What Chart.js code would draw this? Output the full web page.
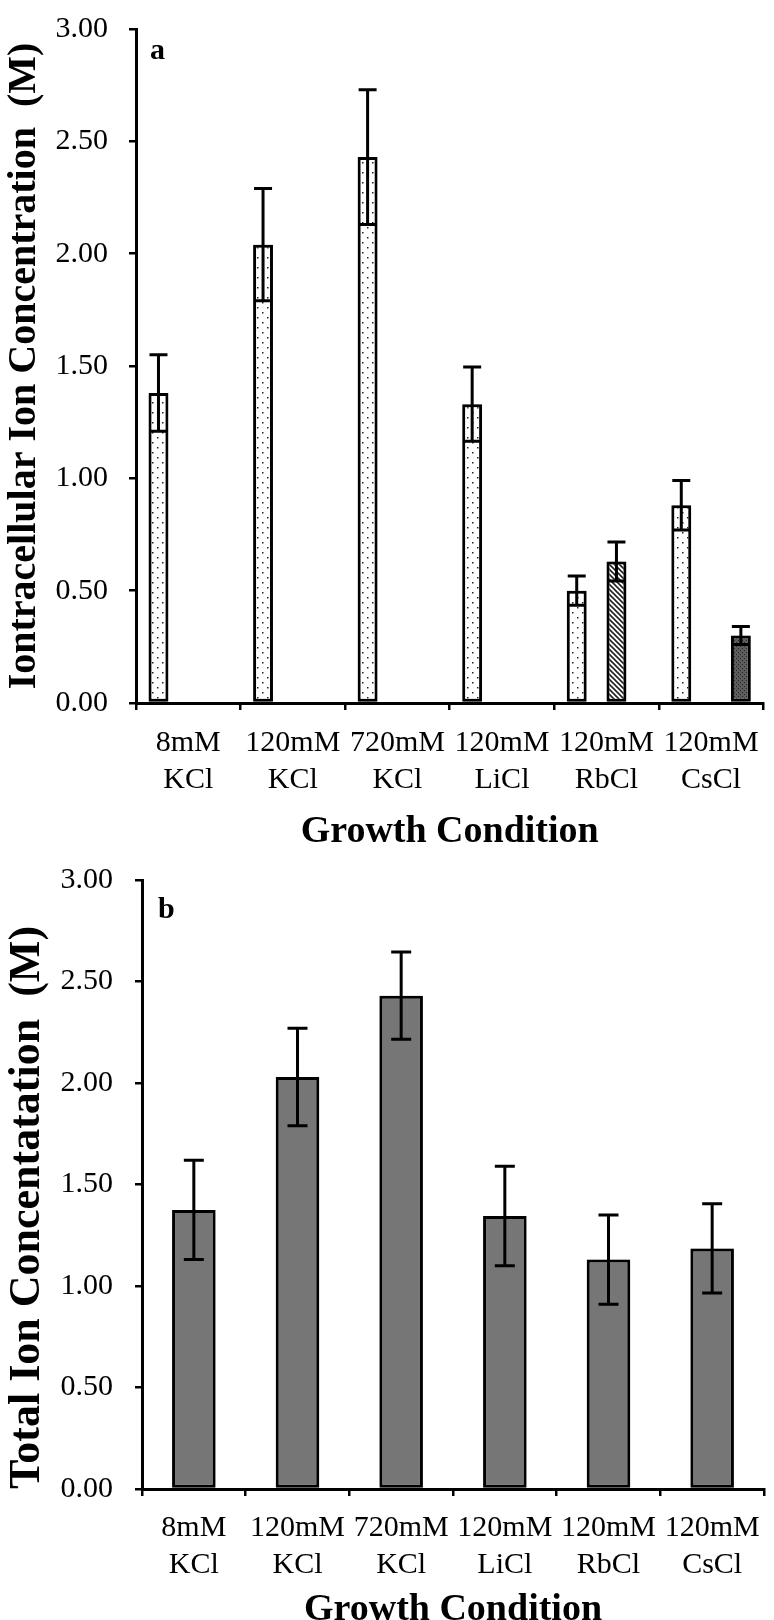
<!DOCTYPE html>
<html>
<head>
<meta charset="utf-8">
<script src="https://cdn.jsdelivr.net/npm/chart.js@4"></script>
<style>
  body { margin: 0; background: #fff; overflow: hidden; }
  #wrap { position: relative; width: 774px; height: 1620px; overflow: hidden; }
  canvas { position: absolute; left: 0; }
</style>
</head>
<body>
<div id="wrap">
  <canvas id="chartA" width="774" height="890" style="top:-10px"></canvas>
  <canvas id="chartB" width="774" height="800" style="top:840px"></canvas>
</div>
<script>
const categories = [
  ["8mM", "KCl"],
  ["120mM", "KCl"],
  ["720mM", "KCl"],
  ["120mM", "LiCl"],
  ["120mM", "RbCl"],
  ["120mM", "CsCl"],
];
const yTicks = [0, 0.5, 1, 1.5, 2, 2.5, 3];

// panel a: intracellular ion per ion type
const kValues = [1.38, 2.04, 2.43, 1.33, 0.5, 0.88];
const kErrors = [0.17, 0.25, 0.3, 0.165, 0.065, 0.11];
const liValues = [null, null, null, null, null, null];
const rbValues = [0, 0, 0, 0, 0.63, 0];
const rbErrors = [0, 0, 0, 0, 0.087, 0];
const csValues = [0, 0, 0, 0, 0, 0.3];
const csErrors = [0, 0, 0, 0, 0, 0.04];

// panel b: total ion
const totalValues = [1.375, 2.03, 2.43, 1.345, 1.13, 1.185];
const totalErrors = [0.245, 0.24, 0.215, 0.245, 0.22, 0.22];

const SERIF = '"Liberation Serif", "Times New Roman", serif';

function tile(w, h, paint) {
  const c = document.createElement("canvas");
  c.width = w;
  c.height = h;
  const g = c.getContext("2d");
  paint(g);
  return g.createPattern(c, "repeat");
}

const dotted = tile(10, 10, (g) => {
  g.fillStyle = "#fff";
  g.fillRect(0, 0, 10, 10);
  g.fillStyle = "#222";
  g.fillRect(2, 2, 1.5, 1.5);
  g.fillRect(7, 7, 1.5, 1.5);
});

const hatched = tile(5, 5, (g) => {
  g.fillStyle = "#fff";
  g.fillRect(0, 0, 5, 5);
  g.strokeStyle = "#222";
  g.lineWidth = 1.6;
  g.beginPath();
  g.moveTo(-1, -1); g.lineTo(6, 6);
  g.moveTo(-1, 4); g.lineTo(1, 6);
  g.moveTo(4, -1); g.lineTo(6, 1);
  g.stroke();
});

const darkFill = tile(4, 4, (g) => {
  g.fillStyle = "#5c5c5c";
  g.fillRect(0, 0, 4, 4);
  g.fillStyle = "#262626";
  g.fillRect(0, 0, 1, 1);
  g.fillRect(2, 2, 1, 1);
});

const barShadow = {
  id: "barShadow",
  beforeDatasetDraw(chart) {
    const ctx = chart.ctx;
    ctx.save();
    ctx.shadowColor = "rgba(0,0,0,0.3)";
    ctx.shadowBlur = 5;
  },
  afterDatasetDraw(chart) {
    chart.ctx.restore();
  },
};

const errorBars = {
  id: "errorBars",
  afterDatasetsDraw(chart, args, opts) {
    const ctx = chart.ctx;
    const y = chart.scales.y;
    chart.data.datasets.forEach((ds, di) => {
      if (!ds.errors) return;
      const meta = chart.getDatasetMeta(di);
      meta.data.forEach((bar, i) => {
        const v = ds.data[i];
        const e = ds.errors[i];
        if (v == null || !e) return;
        const top = y.getPixelForValue(v + e);
        const bottom = y.getPixelForValue(v - e);
        ctx.save();
        ctx.strokeStyle = "#000";
        ctx.lineWidth = opts.width;
        ctx.beginPath();
        ctx.moveTo(bar.x, top);
        ctx.lineTo(bar.x, bottom);
        ctx.moveTo(bar.x - opts.cap, top);
        ctx.lineTo(bar.x + opts.cap, top);
        ctx.moveTo(bar.x - opts.cap, bottom);
        ctx.lineTo(bar.x + opts.cap, bottom);
        ctx.stroke();
        ctx.restore();
      });
    });
  },
};

const panelLetter = {
  id: "panelLetter",
  afterDraw(chart, args, opts) {
    const ctx = chart.ctx;
    ctx.save();
    ctx.fillStyle = "#000";
    ctx.font = `bold 30px ${SERIF}`;
    ctx.textBaseline = "alphabetic";
    ctx.fillText(opts.text, chart.chartArea.left + opts.dx, chart.chartArea.top + opts.dy);
    ctx.restore();
  },
};

function yScale(title, width, pad, align, titleSize) {
  return {
    min: 0,
    max: 3,
    afterBuildTicks: (s) => { s.ticks = yTicks.map((v) => ({ value: v })); },
    afterFit: (s) => { s.width = width; },
    ticks: {
      color: "#000",
      padding: pad,
      font: { family: SERIF, size: 30 },
      callback: (v) => Number(v).toFixed(2),
    },
    grid: { display: true, drawOnChartArea: false, drawTicks: true, tickLength: 7, color: "#000", lineWidth: 2.5 },
    border: { display: true, color: "#000", width: 3 },
    title: {
      display: true,
      text: title,
      color: "#000",
      align: align,
      font: { family: SERIF, size: titleSize, weight: "bold" },
      padding: { top: 1, bottom: 0 },
    },
  };
}

function xScale(height, tickPad, titlePad) {
  return {
    afterFit: (s) => { s.height = height; },
    ticks: {
      color: "#000",
      padding: tickPad,
      maxRotation: 0,
      autoSkip: false,
      font: { family: SERIF, size: 30, lineHeight: 1.23 },
    },
    grid: { display: true, offset: true, drawOnChartArea: false, drawTicks: true, tickLength: 7, color: "#000", lineWidth: 2.5 },
    border: { display: true, color: "#000", width: 3 },
    title: {
      display: true,
      text: "Growth Condition",
      color: "#000",
      font: { family: SERIF, size: 38, weight: "bold" },
      padding: { top: 0, bottom: titlePad },
    },
  };
}

function barStyle(fill) {
  return {
    backgroundColor: fill,
    borderColor: "#000",
    borderWidth: 3,
    borderSkipped: false,
  };
}

new Chart(document.getElementById("chartA"), {
  type: "bar",
  data: {
    labels: categories,
    datasets: [
      { label: "K+", data: kValues, errors: kErrors, ...barStyle(dotted) },
      { label: "Li+", data: liValues, ...barStyle(dotted) },
      { label: "Rb+", data: rbValues, errors: rbErrors, ...barStyle(hatched) },
      { label: "Cs+", data: csValues, errors: csErrors, ...barStyle(darkFill) },
    ],
  },
  options: {
    responsive: false,
    animation: false,
    devicePixelRatio: 1,
    datasets: { bar: { categoryPercentage: 0.76, barPercentage: 1.0 } },
    layout: { padding: { top: 20, right: 5, left: 0, bottom: 0 } },
    scales: {
      x: xScale(177, 15, 25),
      y: yScale("Iontracellular Ion Concentration  (M)", 136, 21, "center", 40),
    },
    plugins: {
      legend: { display: false },
      tooltip: { enabled: false },
      errorBars: { width: 3, cap: 9 },
      panelLetter: { text: "a", dx: 14, dy: 30 },
    },
  },
  plugins: [barShadow, errorBars, panelLetter],
});

new Chart(document.getElementById("chartB"), {
  type: "bar",
  data: {
    labels: categories,
    datasets: [
      { label: "Total", data: totalValues, errors: totalErrors, ...barStyle("#767676") },
    ],
  },
  options: {
    responsive: false,
    animation: false,
    devicePixelRatio: 1,
    datasets: { bar: { categoryPercentage: 1.0, barPercentage: 0.42 } },
    layout: { padding: { top: 25, right: 4, left: 0, bottom: 0 } },
    scales: {
      x: xScale(151, 14, 7),
      y: yScale("Total Ion Concentatation  (M)", 142, 22, "start", 44),
    },
    plugins: {
      legend: { display: false },
      tooltip: { enabled: false },
      errorBars: { width: 3, cap: 10 },
      panelLetter: { text: "b", dx: 16, dy: 38 },
    },
  },
  plugins: [barShadow, errorBars, panelLetter],
});
</script>
</body>
</html>
